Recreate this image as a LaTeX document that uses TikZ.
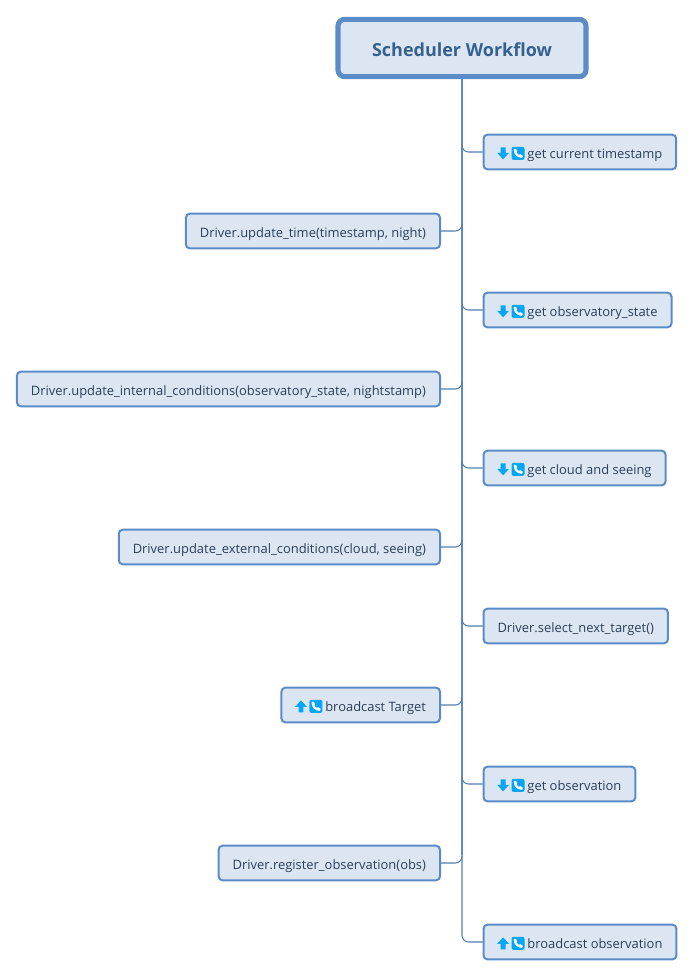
\documentclass[tikz,border=0pt]{standalone}
\usepackage{fontspec}
\setmainfont{Open Sans}
\usepackage{xcolor}
\usetikzlibrary{positioning,calc}
\definecolor{boxfill}{HTML}{DCE6F2}
\definecolor{boxline}{HTML}{5B8CC8}
\definecolor{boxtext}{HTML}{2B3F57}
\definecolor{titletext}{HTML}{36608F}
\definecolor{iconblue}{HTML}{04A6F5}
\tikzset{
  task/.style={draw=boxline,fill=boxfill,text=boxtext,line width=1.5pt,rounded corners=3pt,
    minimum height=26pt,inner xsep=10.5pt,inner ysep=0pt,text height=10pt,text depth=0pt,
    font=\fontsize{9.7}{12}\selectfont},
  root/.style={draw=boxline,fill=boxfill,text=titletext,line width=3.8pt,rounded corners=5pt,
    minimum width=186pt,minimum height=43pt,text height=13pt,text depth=0pt,
    font=\fontsize{13.5}{16}\selectfont\bfseries},
  branch/.style={draw=boxline!90!black,line width=.8pt,rounded corners=5pt}
}
% arrow and phone icon in front of a task
\newcommand{\callicon}[1]{\tikz[x=.75pt,y=-.75pt,baseline=-4pt,sharp corners]{
  \path[use as bounding box] (0,-7) rectangle (27,7);
  \fill[iconblue,yscale=#1] (3.2,-6) -- (8,-6) -- (8,-.5) -- (11.5,-.5) -- (5.6,6) -- (-.3,-.5) -- (3.2,-.5) -- cycle;
  \fill[iconblue,rounded corners=1.5pt] (14,-6.5) rectangle (27,6.5);
  \draw[white,line width=1.7pt,line cap=round] (17.3,-3.6) .. controls (17.8,.8) and (19.8,2.8) .. (24.2,3.4);
  \fill[white] (16.2,-3.8) -- (18.6,-4.6) -- (19.6,-1.8) -- (17.6,-1) -- cycle;
  \fill[white] (21.4,2.4) -- (22.4,.7) -- (25,2) -- (24.4,4.4) -- cycle;
}\hspace{2.2pt}}
\def\getcall{\callicon{1}}
\def\putcall{\callicon{-1}}
\begin{document}
\begin{tikzpicture}[x=.75pt,y=-.75pt]
\useasboundingbox (0,0) rectangle (694,977);
\node[root] (scheduler) at (462,48) {Scheduler Workflow};
% tasks right of the trunk
\node[task,anchor=west] (timestamp) at (482.5,152) {\getcall get current timestamp};
\node[task,anchor=west] (state) at (482.5,310) {\getcall get observatory\_state};
\node[task,anchor=west] (cloud) at (482.5,468) {\getcall get cloud and seeing};
\node[task,anchor=west] (select) at (482.5,626) {Driver.select\_next\_target()};
\node[task,anchor=west] (observation) at (482.5,784) {\getcall get observation};
\node[task,anchor=west] (publish) at (482.5,942) {\putcall broadcast observation};
% tasks left of the trunk
\node[task,anchor=east] (time) at (441,231) {Driver.update\_time(timestamp, night)};
\node[task,anchor=east] (internal) at (441,389) {Driver.update\_internal\_conditions(observatory\_state, nightstamp)};
\node[task,anchor=east] (external) at (441,547) {Driver.update\_external\_conditions(cloud, seeing)};
\node[task,anchor=east] (target) at (441,705) {\putcall broadcast Target};
\node[task,anchor=east] (register) at (441,863) {Driver.register\_observation(obs)};
% trunk gets thinner towards the end
\coordinate (trunk1) at (462,78);
\coordinate (trunk2) at (462,700);
\coordinate (trunk3) at (462,855);
\draw[draw=boxline,line width=1.5pt] (trunk1) -- (trunk2);
\draw[draw=boxline,line width=1.2pt] (trunk2) -- (trunk3);
\foreach \task/\y in {timestamp/145,state/303,cloud/461,select/619,observation/777}
\draw[branch] (\task.west) -| (462,\y);
\foreach \task/\y in {time/224,internal/382,external/540,target/698,register/856}
\draw[branch] (\task.east) -| (462,\y);
\draw[branch] (publish.west) -| (trunk3);
\end{tikzpicture}
\end{document}
